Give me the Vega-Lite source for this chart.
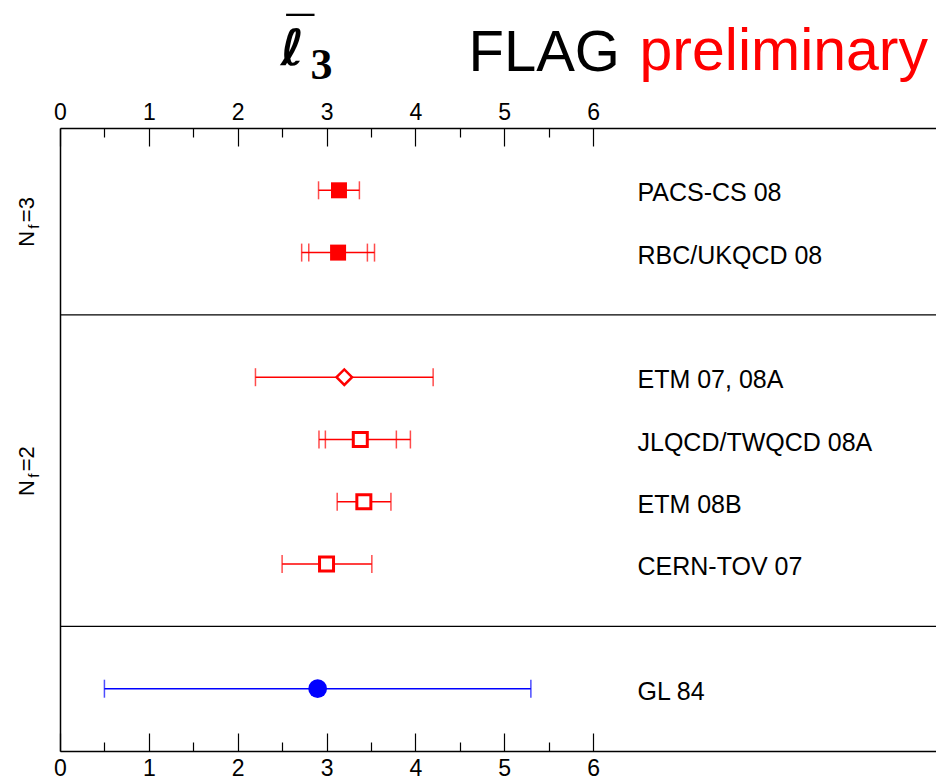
{
  "$schema": "https://vega.github.io/schema/vega-lite/v6.json",
  "width": 876,
  "height": 623,
  "autosize": {"type": "none"},
  "padding": {"left": 60, "top": 128, "right": 0, "bottom": 28},
  "background": "white",
  "config": {
    "view": {"stroke": null},
    "font": "Liberation Sans",
    "axis": {"grid": false, "domainColor": "black", "tickColor": "black", "labelColor": "black", "titleColor": "black", "labelFont": "Liberation Sans", "labelOverlap": false, "labelFlush": false}
  },
  "data": {
    "values": [
      {"study": "PACS-CS 08", "row": 1, "value": 3.14, "lo": 2.91, "hi": 3.37, "lo_in": null, "hi_in": null, "group": "lattice", "marker": "Nf3"},
      {"study": "RBC/UKQCD 08", "row": 2, "value": 3.13, "lo": 2.72, "hi": 3.54, "lo_in": 2.80, "hi_in": 3.46, "group": "lattice", "marker": "Nf3"},
      {"study": "ETM 07, 08A", "row": 4, "value": 3.2, "lo": 2.2, "hi": 4.2, "lo_in": null, "hi_in": null, "group": "lattice", "marker": "Nf2-ETM"},
      {"study": "JLQCD/TWQCD 08A", "row": 5, "value": 3.38, "lo": 2.915, "hi": 3.944, "lo_in": 2.987, "hi_in": 3.786, "group": "lattice", "marker": "Nf2"},
      {"study": "ETM 08B", "row": 6, "value": 3.42, "lo": 3.12, "hi": 3.725, "lo_in": null, "hi_in": null, "group": "lattice", "marker": "Nf2"},
      {"study": "CERN-TOV 07", "row": 7, "value": 3.0, "lo": 2.5, "hi": 3.51, "lo_in": null, "hi_in": null, "group": "lattice", "marker": "Nf2"},
      {"study": "GL 84", "row": 9, "value": 2.9, "lo": 0.5, "hi": 5.3, "lo_in": null, "hi_in": null, "group": "phenomenology", "marker": "pheno"}
    ]
  },
  "resolve": {"axis": {"x": "independent", "y": "independent"}},
  "layer": [
    {
      "data": {"values": [{"boundary": 3}, {"boundary": 8}]},
      "mark": {"type": "rule", "color": "black", "strokeWidth": 1.2},
      "encoding": {
        "y": {"field": "boundary", "type": "quantitative", "scale": {"domain": [0, 10], "reverse": true, "nice": false, "zero": false}, "axis": null}
      }
    },
    {
      "mark": {"type": "rule", "strokeWidth": 1.5},
      "encoding": {
        "x": {"field": "lo", "type": "quantitative", "scale": {"domain": [0, 9.86], "nice": false, "zero": false},
          "axis": {"orient": "bottom", "values": [0, 1, 2, 3, 4, 5, 6], "format": "d", "tickSize": -18, "tickWidth": 1.2, "domainWidth": 1.5, "labelFontSize": 23, "labelPadding": 24,
            "title": "preliminary", "titleColor": "#ff0000", "titleFont": "Liberation Sans", "titleFontSize": 59, "titleFontWeight": "normal", "titleAlign": "left", "titleBaseline": "alphabetic", "titleAngle": 0, "titleX": 579, "titleY": -682}},
        "x2": {"field": "hi"},
        "y": {"field": "row", "type": "quantitative", "scale": {"domain": [0, 10], "reverse": true, "nice": false, "zero": false},
          "axis": {"orient": "left", "values": [1.5, 5.5], "labelExpr": "datum.value < 3 ? 'N\u2009\u2009=3' : 'N\u2009\u2009=2'", "labelAngle": 270, "labelAlign": "center", "labelBaseline": "alphabetic", "labelFontSize": 22, "labelPadding": 27, "ticks": false, "tickSize": 0, "domainWidth": 1.5,
            "title": "ℓ", "titleAngle": 0, "titleX": 220, "titleY": -64, "titleAlign": "left", "titleBaseline": "alphabetic", "titleFont": "DejaVu Sans", "titleFontSize": 50, "titleFontStyle": "italic", "titleFontWeight": "bold"}},
        "color": {"field": "group", "type": "nominal", "scale": {"domain": ["lattice", "phenomenology"], "range": ["#ff0000", "#0000ff"]}, "legend": null}
      }
    },
    {
      "mark": {"type": "tick", "orient": "vertical", "size": 18, "thickness": 1.5},
      "encoding": {
        "x": {"field": "lo", "type": "quantitative", "scale": {"domain": [0, 9.86], "nice": false, "zero": false},
          "axis": {"orient": "top", "values": [0, 1, 2, 3, 4, 5, 6], "format": "d", "tickSize": -18, "tickWidth": 1.2, "domainWidth": 1.5, "labelFontSize": 23, "labelPadding": 22,
            "title": "FLAG", "titleColor": "black", "titleFont": "Liberation Sans", "titleFontSize": 58, "titleFontWeight": "normal", "titleAlign": "left", "titleBaseline": "alphabetic", "titleAngle": 0, "titleX": 408, "titleY": -58}},
        "y": {"field": "row", "type": "quantitative", "scale": {"domain": [0, 10], "reverse": true, "nice": false, "zero": false},
          "axis": {"orient": "left", "values": [1.5, 5.5], "labelExpr": "'f'", "labelAngle": 270, "labelAlign": "center", "labelBaseline": "alphabetic", "labelFontSize": 15, "labelPadding": 22, "labelOffset": 4.6, "ticks": false, "tickSize": 0, "domain": false,
            "title": "3", "titleAngle": 0, "titleX": 250, "titleY": -50, "titleAlign": "left", "titleBaseline": "alphabetic", "titleFont": "Liberation Serif", "titleFontSize": 44, "titleFontWeight": "bold"}},
        "color": {"field": "group", "type": "nominal", "scale": {"domain": ["lattice", "phenomenology"], "range": ["#ff0000", "#0000ff"]}, "legend": null}
      }
    },
    {
      "mark": {"type": "tick", "orient": "vertical", "size": 18, "thickness": 1.5},
      "encoding": {
        "x": {"field": "hi", "type": "quantitative", "scale": {"domain": [0, 9.86], "nice": false, "zero": false},
          "axis": {"orient": "bottom", "values": [0.5, 1.5, 2.5, 3.5, 4.5, 5.5], "tickSize": -9, "tickWidth": 1.2, "labels": false, "domain": false,
            "title": "¯", "titleColor": "black", "titleFont": "Liberation Sans", "titleFontSize": 50, "titleFontWeight": "bold", "titleAlign": "left", "titleBaseline": "alphabetic", "titleAngle": 0, "titleX": 226, "titleY": -700}},
        "y": {"field": "row", "type": "quantitative", "scale": {"domain": [0, 10], "reverse": true, "nice": false, "zero": false}, "axis": null},
        "color": {"field": "group", "type": "nominal", "scale": {"domain": ["lattice", "phenomenology"], "range": ["#ff0000", "#0000ff"]}, "legend": null}
      }
    },
    {
      "mark": {"type": "tick", "orient": "vertical", "size": 18, "thickness": 1.5},
      "encoding": {
        "x": {"field": "lo_in", "type": "quantitative", "scale": {"domain": [0, 9.86], "nice": false, "zero": false},
          "axis": {"orient": "top", "values": [0.5, 1.5, 2.5, 3.5, 4.5, 5.5], "tickSize": -9, "tickWidth": 1.2, "labels": false, "domain": false, "title": null}},
        "y": {"field": "row", "type": "quantitative", "scale": {"domain": [0, 10], "reverse": true, "nice": false, "zero": false}, "axis": null},
        "color": {"field": "group", "type": "nominal", "scale": {"domain": ["lattice", "phenomenology"], "range": ["#ff0000", "#0000ff"]}, "legend": null}
      }
    },
    {
      "mark": {"type": "tick", "orient": "vertical", "size": 18, "thickness": 1.5},
      "encoding": {
        "x": {"field": "hi_in", "type": "quantitative", "scale": {"domain": [0, 9.86], "nice": false, "zero": false}, "axis": null},
        "y": {"field": "row", "type": "quantitative", "scale": {"domain": [0, 10], "reverse": true, "nice": false, "zero": false}, "axis": null},
        "color": {"field": "group", "type": "nominal", "scale": {"domain": ["lattice", "phenomenology"], "range": ["#ff0000", "#0000ff"]}, "legend": null}
      }
    },
    {
      "transform": [{"filter": "datum.marker == 'Nf3'"}],
      "mark": {"type": "point", "shape": "square", "filled": true, "size": 256, "opacity": 1, "color": "#ff0000"},
      "encoding": {
        "x": {"field": "value", "type": "quantitative", "scale": {"domain": [0, 9.86], "nice": false, "zero": false}, "axis": null},
        "y": {"field": "row", "type": "quantitative", "scale": {"domain": [0, 10], "reverse": true, "nice": false, "zero": false}, "axis": null}
      }
    },
    {
      "transform": [{"filter": "datum.marker == 'Nf2-ETM'"}],
      "mark": {"type": "point", "shape": "diamond", "filled": true, "fill": "white", "stroke": "#ff0000", "strokeWidth": 2.5, "size": 240, "opacity": 1},
      "encoding": {
        "x": {"field": "value", "type": "quantitative", "scale": {"domain": [0, 9.86], "nice": false, "zero": false}, "axis": null},
        "y": {"field": "row", "type": "quantitative", "scale": {"domain": [0, 10], "reverse": true, "nice": false, "zero": false}, "axis": null}
      }
    },
    {
      "transform": [{"filter": "datum.marker == 'Nf2'"}],
      "mark": {"type": "point", "shape": "square", "filled": true, "fill": "white", "stroke": "#ff0000", "strokeWidth": 3, "size": 196, "opacity": 1},
      "encoding": {
        "x": {"field": "value", "type": "quantitative", "scale": {"domain": [0, 9.86], "nice": false, "zero": false}, "axis": null},
        "y": {"field": "row", "type": "quantitative", "scale": {"domain": [0, 10], "reverse": true, "nice": false, "zero": false}, "axis": null}
      }
    },
    {
      "transform": [{"filter": "datum.marker == 'pheno'"}],
      "mark": {"type": "point", "shape": "circle", "filled": true, "size": 350, "opacity": 1, "color": "#0000ff"},
      "encoding": {
        "x": {"field": "value", "type": "quantitative", "scale": {"domain": [0, 9.86], "nice": false, "zero": false}, "axis": null},
        "y": {"field": "row", "type": "quantitative", "scale": {"domain": [0, 10], "reverse": true, "nice": false, "zero": false}, "axis": null}
      }
    },
    {
      "mark": {"type": "text", "align": "left", "baseline": "middle", "dy": 3, "fontSize": 25, "font": "Liberation Sans", "color": "black"},
      "encoding": {
        "x": {"datum": 6.5, "type": "quantitative", "scale": {"domain": [0, 9.86], "nice": false, "zero": false}, "axis": null},
        "y": {"field": "row", "type": "quantitative", "scale": {"domain": [0, 10], "reverse": true, "nice": false, "zero": false}, "axis": null},
        "text": {"field": "study"}
      }
    }
  ]
}
